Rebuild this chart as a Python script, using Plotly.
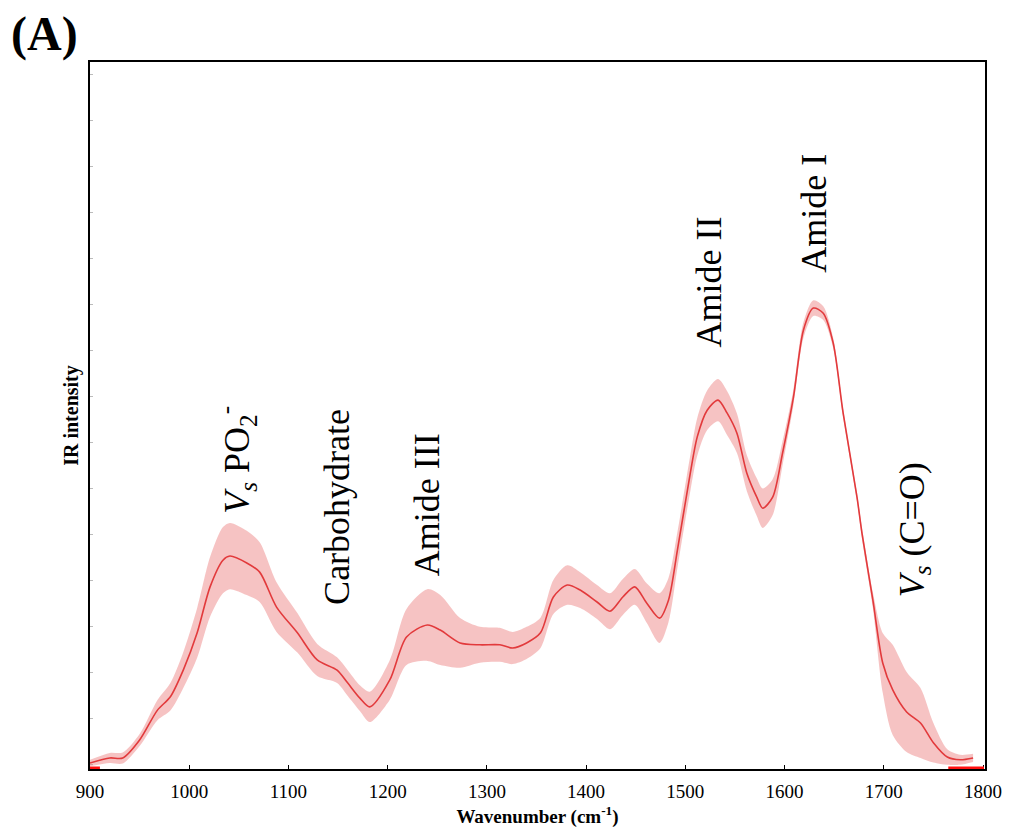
import plotly.graph_objects as go

# FTIR mean spectrum (arbitrary intensity units) and its standard deviation
wavenumber = [900, 920, 933, 950, 968, 981, 994, 1008, 1021, 1034, 1041, 1058, 1071,
              1088, 1109, 1129, 1149, 1159, 1172, 1182, 1202, 1219, 1240, 1253, 1273,
              1293, 1313, 1326, 1340, 1354, 1367, 1381, 1394, 1411, 1424, 1437, 1449,
              1461, 1474, 1483, 1492, 1505, 1512, 1522, 1533, 1542, 1552, 1562, 1572,
              1578, 1588, 1598, 1609, 1619, 1629, 1639, 1649, 1659, 1673, 1678, 1689,
              1699, 1709, 1723, 1737, 1750, 1764, 1777, 1790]
mean_intensity = [0.013, 0.024, 0.024, 0.063, 0.128, 0.157, 0.215, 0.296, 0.396, 0.454,
                  0.463, 0.448, 0.428, 0.352, 0.296, 0.237, 0.215, 0.189, 0.154, 0.135,
                  0.193, 0.287, 0.313, 0.302, 0.274, 0.270, 0.270, 0.263, 0.274, 0.296,
                  0.374, 0.400, 0.389, 0.363, 0.343, 0.374, 0.396, 0.361, 0.328, 0.367,
                  0.476, 0.643, 0.722, 0.780, 0.802, 0.774, 0.730, 0.643, 0.591, 0.567,
                  0.591, 0.687, 0.809, 0.954, 1.002, 0.991, 0.926, 0.774, 0.591, 0.513,
                  0.367, 0.230, 0.172, 0.124, 0.100, 0.057, 0.026, 0.020, 0.024]
std_intensity = [0.007, 0.011, 0.012, 0.013, 0.022, 0.030, 0.039, 0.054, 0.065, 0.072,
                 0.072, 0.070, 0.065, 0.054, 0.043, 0.035, 0.028, 0.028, 0.028, 0.033,
                 0.043, 0.061, 0.078, 0.076, 0.054, 0.039, 0.037, 0.035, 0.035, 0.033,
                 0.037, 0.043, 0.039, 0.037, 0.039, 0.039, 0.039, 0.043, 0.054, 0.048,
                 0.039, 0.039, 0.041, 0.043, 0.046, 0.048, 0.043, 0.039, 0.041, 0.043,
                 0.039, 0.026, 0.017, 0.017, 0.017, 0.015, 0.011, 0.009, 0.009, 0.012,
                 0.017, 0.065, 0.098, 0.087, 0.076, 0.043, 0.017, 0.011, 0.009]

# Spectral windows clipped to zero intensity at both ends of the range
zero_wavenumber = [900, 910, None, 1765, 1801]
zero_intensity = [0, 0, None, 0, 0]

x_ticks = [900, 1000, 1100, 1200, 1300, 1400, 1500, 1600, 1700, 1800]

# Band assignments: label, wavenumber and intensity where the label sits
band_labels = ["<i>V</i><sub><i>s</i></sub> PO<sub>2</sub><sup>-</sup>",
               "Carbohydrate", "Amide III", "Amide II", "Amide I",
               "<i>V</i><sub><i>s</i></sub> (C=O)"]
band_x = [1048, 1149, 1240, 1524, 1630, 1731]
band_y = [0.672, 0.570, 0.574, 1.058, 1.208, 0.520]

SERIF = "Liberation Serif, Times New Roman, serif"
LINE = "#e23a3c"
FILL = "rgba(236,122,122,0.45)"

upper = [m + s for m, s in zip(mean_intensity, std_intensity)]
lower = [max(m - s, 0) for m, s in zip(mean_intensity, std_intensity)]

fig = go.Figure()
fig.add_trace(go.Scatter(x=wavenumber, y=upper, mode="lines",
                         line=dict(width=0, shape="spline", smoothing=0.8),
                         hoverinfo="skip", showlegend=False))
fig.add_trace(go.Scatter(x=wavenumber, y=lower, mode="lines", fill="tonexty",
                         fillcolor=FILL,
                         line=dict(width=0, shape="spline", smoothing=0.8),
                         hoverinfo="skip", showlegend=False))
fig.add_trace(go.Scatter(x=wavenumber, y=mean_intensity, mode="lines",
                         line=dict(color=LINE, width=1.6, shape="spline", smoothing=0.8),
                         showlegend=False))
fig.add_trace(go.Scatter(x=zero_wavenumber, y=zero_intensity, mode="lines",
                         line=dict(color="#ff1010", width=5), cliponaxis=False,
                         hoverinfo="skip", showlegend=False))

for text, bx, by in zip(band_labels, band_x, band_y):
    fig.add_annotation(x=bx, y=by, xref="x", yref="y", text=text, textangle=-90,
                       showarrow=False, font=dict(family=SERIF, size=36, color="black"))

fig.add_annotation(x=-0.09, y=1.08, xref="paper", yref="paper", xanchor="left",
                   yanchor="top", text="<b>(A)</b>", showarrow=False,
                   font=dict(family=SERIF, size=48, color="black"))

fig.update_layout(
    width=1009, height=837,
    margin=dict(l=90, r=24, t=62, b=68),
    paper_bgcolor="white", plot_bgcolor="white",
    font=dict(family=SERIF, color="black"),
    xaxis=dict(range=[900, 1802], tickvals=x_ticks, ticks="inside", ticklen=4,
               tickcolor="black", tickwidth=1, showline=True, linecolor="black",
               linewidth=2, mirror=True, showgrid=False, zeroline=False,
               automargin=False, layer="below traces",
               ticklabelstandoff=4,
               tickfont=dict(family=SERIF, size=19),
               title=dict(text="<b>Wavenumber (cm<sup>-1</sup>)</b>",
                          font=dict(family=SERIF, size=19), standoff=9)),
    yaxis=dict(range=[0, 1.537], tick0=0.11, dtick=0.1, ticks="inside", ticklen=3,
               tickcolor="#bbbbbb", showticklabels=False, showline=True,
               linecolor="black", linewidth=2, mirror=True, showgrid=False,
               zeroline=False, automargin=False, layer="below traces",
               title=dict(text="<b>IR intensity</b>",
                          font=dict(family=SERIF, size=20), standoff=4)),
)

fig.write_html("out.html")
